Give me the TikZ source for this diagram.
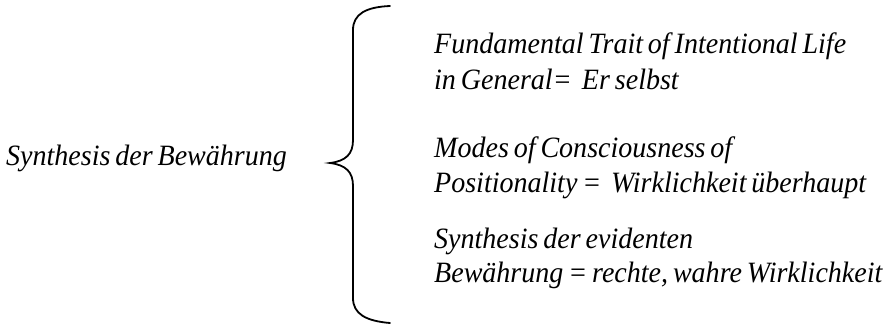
\documentclass[tikz,border=0pt]{standalone}
\usepackage{fontspec}
\setmainfont{Liberation Serif}[FakeStretch=0.95,WordSpace=0.7]
\begin{document}
\begin{tikzpicture}[x=1pt,y=-1pt,
  lbl/.style={anchor=base west,inner sep=0pt,font=\fontsize{29.5}{35}\selectfont\itshape,align=left},
  brace/.style={line width=1.8pt,line cap=round}]
\useasboundingbox (0,0) rectangle (891,329);
\node[lbl] (left) at (6,165) {Synthesis der Bewährung};
\node[lbl] (t1) at (434,54) {Fundamental Trait of Intentional Life};
\node[lbl] (t2) at (434,89) {in General=\hspace{0.35em}Er selbst};
\node[lbl] (t3) at (434,157) {Modes of Consciousness of};
\node[lbl] (t4) at (434,192) {Positionality = \ Wirklichkeit überhaupt};
\node[lbl] (t5) at (434,248) {Synthesis der evidenten};
\node[lbl] (t6) at (434,282) {Bewährung = rechte, wahre Wirklichkeit};
\coordinate (btop) at (390,6);
\coordinate (btip) at (330,163);
\coordinate (bbot) at (390,323);
\draw[brace] (btop) .. controls (366,7) and (353,14) .. (353,30) -- (353,140)
  .. controls (353,154) and (346,161) .. (btip)
  .. controls (346,165) and (353,172) .. (353,186) -- (353,298)
  .. controls (353,314) and (366,321) .. (bbot);
\end{tikzpicture}
\end{document}
